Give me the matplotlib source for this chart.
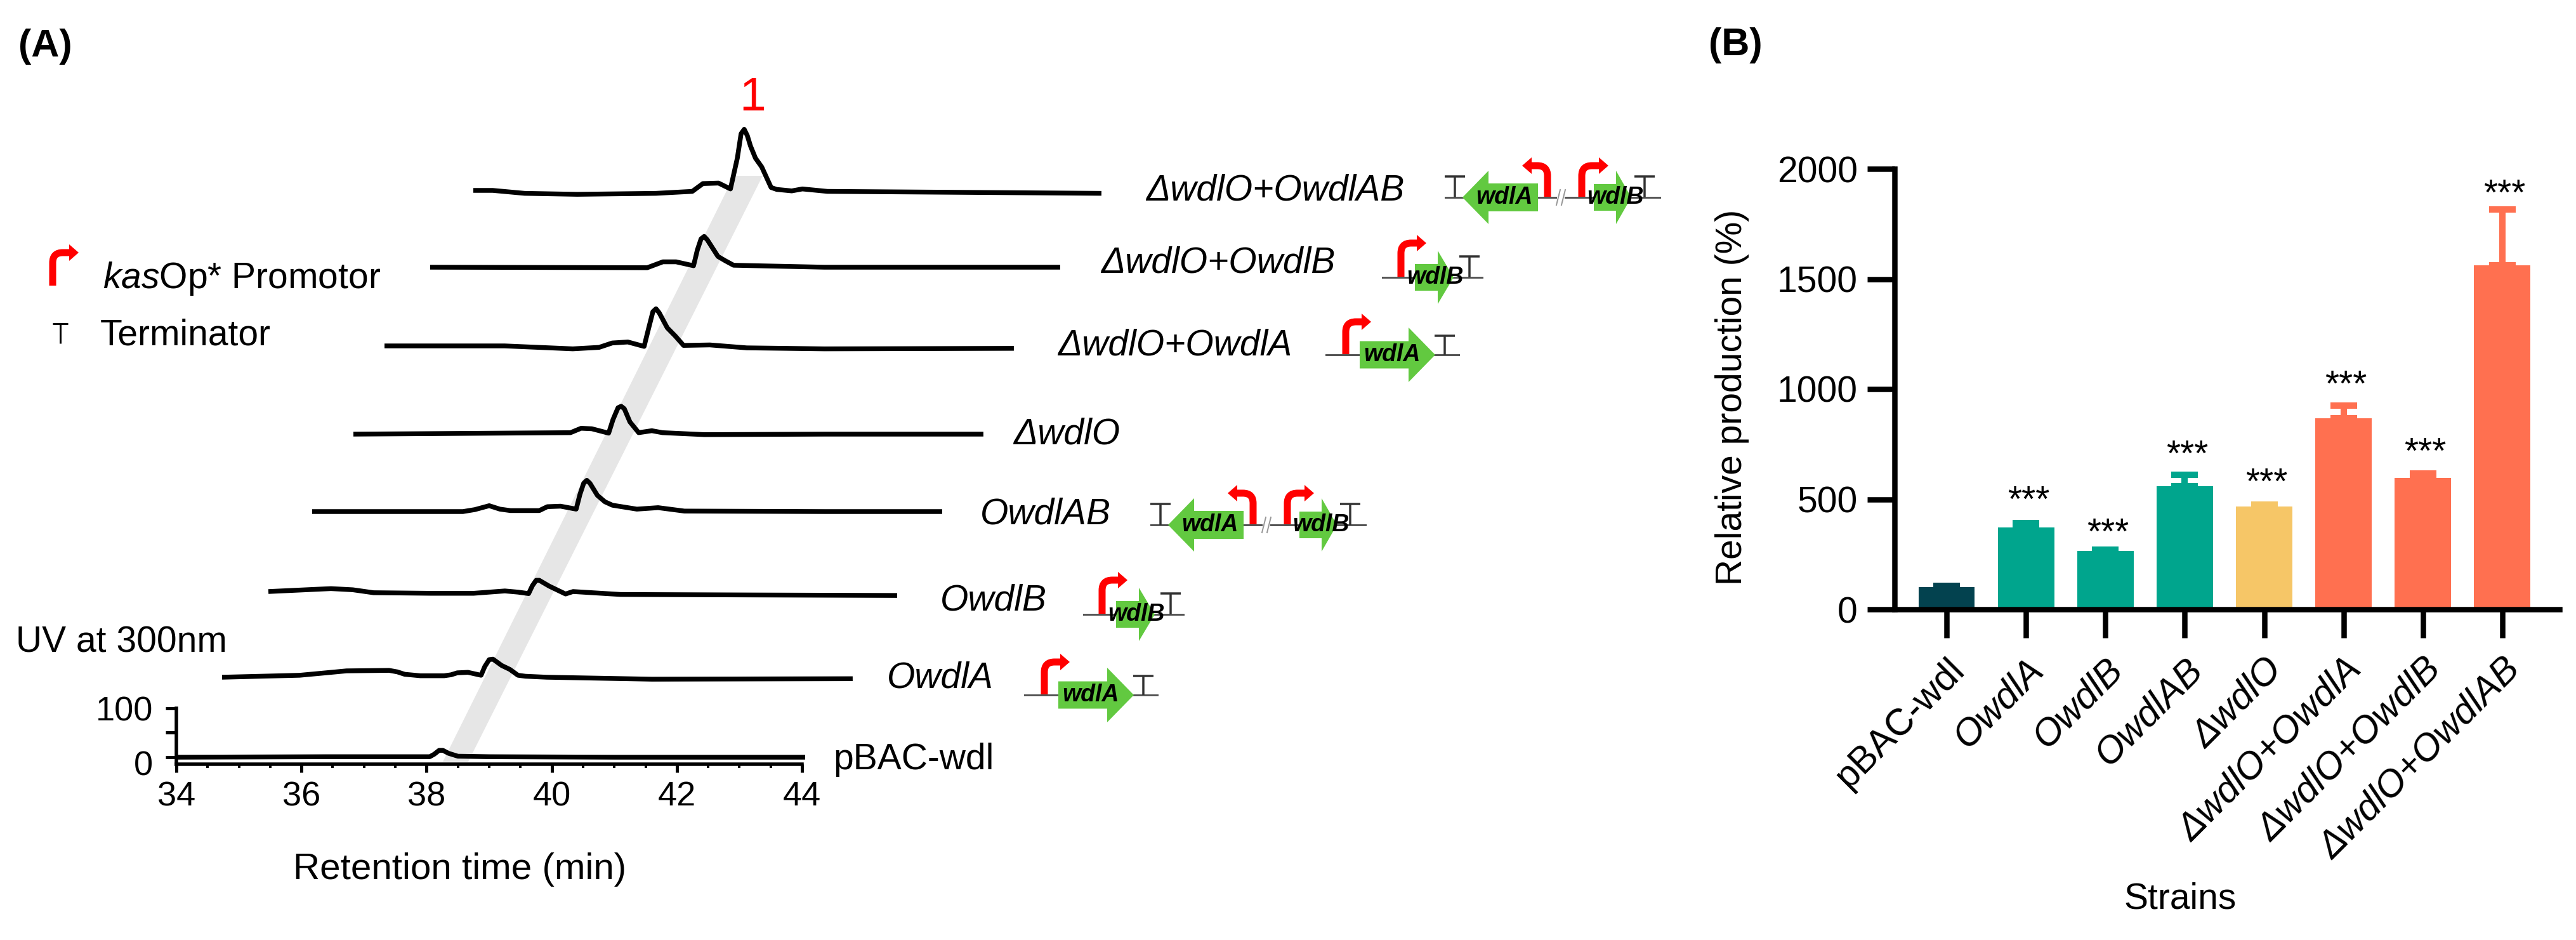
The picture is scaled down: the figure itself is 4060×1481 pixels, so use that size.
import matplotlib
matplotlib.use("Agg")
import matplotlib.pyplot as plt
from matplotlib.patches import Polygon, PathPatch, Rectangle
from matplotlib.path import Path
from matplotlib.transforms import Affine2D, ScaledTranslation
from matplotlib.ticker import MultipleLocator

plt.rcParams['font.family'] = ['Liberation Sans', 'DejaVu Sans']
plt.rcParams['mathtext.fontset'] = 'custom'
plt.rcParams['mathtext.rm'] = 'Liberation Sans'
plt.rcParams['mathtext.it'] = 'Liberation Sans:italic'

# ---------- data: panel A chromatograms (retention time, UV) ----------
t_pbac = [34, 36.4, 37.5, 38.05, 38.12, 38.2, 38.26, 38.35, 38.5, 39, 41, 44.05]
v_pbac = [0, 1, 1, 1, 6, 14, 14, 8, 2, 1, 0, 0]
t_a = [34, 35.24, 35.66, 35.99, 36.67, 36.8, 36.92, 37.17, 37.55, 37.66, 37.76, 37.93, 38.14, 38.2, 38.27, 38.33, 38.47, 38.6, 38.73, 38.85, 39.19, 40.87, 44.08]
v_a = [0, 4, 9, 13, 14, 11, 6, 3, 3, 5, 9, 10, 4, 22, 36, 37, 24, 16, 4, 2, 0, -4, -3]
t_b = [34, 34.5, 35.0, 35.35, 35.68, 36.6, 37.28, 37.78, 37.99, 38.16, 38.22, 38.28, 38.33, 38.49, 38.75, 38.87, 39.63, 41.65, 44.05]
v_b = [0, 3, 6, 3.6, -2.4, -3.6, -3.6, 1.2, -1.2, -4.2, 12, 23, 23, 11, -5, 0, -6, -7, -8]
t_ab = [34, 36.41, 36.6, 36.83, 37.0, 37.17, 37.63, 37.76, 37.97, 38.22, 38.28, 38.34, 38.39, 38.44, 38.56, 38.68, 38.8, 39.19, 39.53, 39.95, 42.2, 44.07]
v_ab = [0, 0, 4, 12, 5, 2, 2, 10, 11, 5, 35, 58, 64, 58, 33, 20, 13, 5, 8, 1, 0, 0]
t_do = [34, 37.47, 37.64, 37.81, 38.08, 38.15, 38.23, 38.28, 38.33, 38.42, 38.56, 38.77, 38.94, 39.61, 41.53, 44.07]
v_do = [0, 3, 12, 11, 2, 30, 54, 57, 52, 25, 3, 7, 3, -1, 0, 0]
t_doa = [34, 35.92, 37.01, 37.43, 37.64, 37.89, 38.15, 38.22, 38.29, 38.34, 38.39, 38.52, 38.65, 38.78, 39.2, 39.79, 41.03, 44.06]
v_doa = [0, 0, -6, -3, 6, 8, -1, 35, 70, 76, 68, 37, 20, 1, 2, -4, -6, -5]
t_dob = [34, 37.47, 37.72, 37.93, 38.21, 38.27, 38.33, 38.38, 38.43, 38.6, 38.72, 38.85, 40.3, 44.07]
v_dob = [0, -1, 11, 11, 3, 35, 58, 63, 56, 22, 13, 4, 0, 0]
t_doab = [34, 34.31, 34.82, 35.66, 36.92, 37.5, 37.67, 37.92, 38.11, 38.22, 38.28, 38.33, 38.38, 38.43, 38.51, 38.61, 38.76, 38.85, 39.09, 39.26, 39.66, 44.04]
v_doab = [0, 0, -6, -8, -6, -2, 14, 15, 3, 66, 116, 125, 112, 91, 66, 48, 6, 2, -1, 3, -2, -6]

trace_names = ['pBAC-wdl', 'OwdlA', 'OwdlB', 'OwdlAB', 'ΔwdlO', 'ΔwdlO+OwdlA', 'ΔwdlO+OwdlB', 'ΔwdlO+OwdlAB']
trace_times = [t_pbac, t_a, t_b, t_ab, t_do, t_doa, t_dob, t_doab]
trace_values = [v_pbac, v_a, v_b, v_ab, v_do, v_doa, v_dob, v_doab]

# ---------- data: panel B ----------
strains = ['pBAC-wdl', 'OwdlA', 'OwdlB', 'OwdlAB', 'ΔwdlO', 'ΔwdlO+OwdlA', 'ΔwdlO+OwdlB', 'ΔwdlO+OwdlAB']
production = [100, 373, 264, 558, 468, 868, 596, 1562]
errors = [8, 20, 6, 52, 8, 58, 22, 254]
star_heights = [None, 505, 358, 712, 587, 1030, 723, 1896]

# ---------- layout (pixels) ----------
W, H = 4060, 1481
DPI = 100
def pt(px):
    return px * 72.0 / DPI

trace_dx = [0, 72, 145, 214, 279, 328, 400, 468]
trace_dy = [0, 126, 261, 387, 509, 648, 772, 893]
label_x = [1313, 1398, 1482, 1545, 1597, 1667, 1735, 1806]
label_y = [1197, 1068, 946, 810, 684, 545, 415, 300]

BAR_COLORS = ['#03424F', '#00A58D', '#00A58D', '#00A58D', '#F6C667', '#FF7050', '#FF7050', '#FF7050']
GREEN = '#62C940'
GREY = '#555555'
TERM = '#333333'
RED = '#FF0000'

fig = plt.figure(figsize=(W / DPI, H / DPI), dpi=DPI, facecolor='white')

def add_px_axes(left, right, top, bottom):
    return fig.add_axes([left / W, 1 - bottom / H, (right - left) / W, (bottom - top) / H])

# overlay in pixel coordinates for annotation graphics
ov = fig.add_axes([0, 0, 1, 1], zorder=0)
ov.set_xlim(0, W)
ov.set_ylim(H, 0)
ov.axis('off')

# highlighted band behind the peaks
ov.add_patch(Polygon([(698, 1200), (738, 1200), (1202, 277), (1157, 277)], closed=True, fc='#E6E6E6', ec='none'))

# ---------- panel A axes ----------
axA = add_px_axes(278, 1264, 1116, 1204)
axA.set_zorder(1)
axA.patch.set_visible(False)
axA.set_xlim(34, 44)
axA.set_ylim(-14.3, 100)
for s in ('top', 'right'):
    axA.spines[s].set_visible(False)
for s in ('left', 'bottom'):
    axA.spines[s].set_linewidth(pt(5.5))
for t, v, dx, dy in zip(trace_times, trace_values, trace_dx, trace_dy):
    tr = axA.transData + Affine2D().translate(dx, dy)
    axA.plot(t, v, color='black', lw=pt(7.5), transform=tr, clip_on=False,
             solid_joinstyle='round', solid_capstyle='butt')
axA.set_xticks(range(34, 45, 2))
axA.xaxis.set_minor_locator(MultipleLocator(0.5))
axA.set_yticks([0, 50, 100])
axA.set_yticklabels(['0', '', '100'])
axA.tick_params(axis='x', which='major', length=pt(13), width=pt(5), labelsize=39, pad=pt(13))
axA.tick_params(axis='x', which='minor', length=pt(6), width=pt(4))
axA.tick_params(axis='y', which='major', length=pt(17), width=pt(5), labelsize=39, pad=pt(20))
zero = axA.get_yticklabels()[0]
zero.set_transform(zero.get_transform() + ScaledTranslation(0, -pt(9) / 72, fig.dpi_scale_trans))
axA.set_xlabel('Retention time (min)', fontsize=42)
axA.xaxis.set_label_coords(725, 1370, transform=ov.transData)
axA.xaxis.label.set_va('center')

# ---------- panel A texts ----------
for name, x, y in zip(trace_names, label_x, label_y):
    ov.text(x, y, name, fontsize=41, va='center', ha='left', style='normal' if name == 'pBAC-wdl' else 'italic')
ov.text(25, 1013, 'UV at 300nm', fontsize=41, va='center', ha='left')
ov.text(29, 73, '(A)', fontsize=44, fontweight='bold', va='center', ha='left')
ov.text(2693, 71, '(B)', fontsize=44, fontweight='bold', va='center', ha='left')
ov.text(1186, 154, '1', fontsize=54, color=RED, va='center', ha='center')
ov.text(162, 454, r'$\mathit{kas}$Op* Promotor', fontsize=41, va='baseline', ha='left')
ov.text(158, 543, 'Terminator', fontsize=41, va='baseline', ha='left')

def red_arrow(x, y0, top, tip, lw=11):
    """Bent promoter arrow: stem at x from y0 to top, pointing to tip."""
    d = 1 if tip > x else -1
    r = 16
    head = 15
    verts = [(x, y0), (x, top + r), (x, top), (x + d * r, top), (tip - d * head, top)]
    codes = [Path.MOVETO, Path.LINETO, Path.CURVE3, Path.CURVE3, Path.LINETO]
    ov.add_patch(PathPatch(Path(verts, codes), fc='none', ec=RED, lw=pt(lw), capstyle='butt'))
    ov.add_patch(Polygon([(tip, top), (tip - d * head, top - 13), (tip - d * head, top + 13)], closed=True, fc=RED, ec='none'))

def terminator(x, y0, h, half=16, color=TERM, lw=3.5):
    ov.plot([x, x], [y0, y0 - h], color=color, lw=pt(lw), solid_capstyle='butt')
    ov.plot([x - half, x + half], [y0 - h, y0 - h], color=color, lw=pt(lw), solid_capstyle='butt')

def gene(base, tip, body_end, y, half, head_half, label, cx):
    """Green block arrow from body_end to tip; base is where the head starts."""
    pts = [(body_end, y - half), (base, y - half), (base, y - head_half), (tip, y),
           (base, y + head_half), (base, y + half), (body_end, y + half)]
    ov.add_patch(Polygon(pts, closed=True, fc=GREEN, ec='none', zorder=3))
    ov.text(cx, y, label, fontsize=27, fontweight='bold', style='italic', ha='center', va='center', zorder=4)

def construct_a(x, y):
    ov.plot([x, x + 209], [y, y], color=GREY, lw=pt(3))
    red_arrow(x + 31, y, y - 52, x + 71)
    gene(x + 130, x + 172, x + 53, y, 21.5, 43, 'wdlA', x + 104)
    terminator(x + 187, y, 30)

def construct_b(x, y):
    ov.plot([x, x + 157], [y, y], color=GREY, lw=pt(3))
    red_arrow(x + 29, y, y - 54, x + 69)
    gene(x + 87, x + 112, x + 51, y, 21, 42, 'wdlB', x + 83)
    terminator(x + 137, y, 33)

def construct_ab(x, y):
    ov.plot([x, x + 338], [y, y], color=GREY, lw=pt(3))
    terminator(x + 15, y, 33)
    red_arrow(x + 161, y, y - 50, x + 121)
    gene(x + 68, x + 27, x + 146, y, 22, 42, 'wdlA', x + 93)
    ov.add_patch(Rectangle((x + 176, y - 4), 12, 8, fc='white', ec='none', zorder=2))
    for off in (0, 8):
        ov.plot([x + 175 + off, x + 181 + off], [y + 12, y - 12], color='#999999', lw=pt(2), zorder=3)
    red_arrow(x + 215, y, y - 50, x + 257)
    gene(x + 269, x + 293, x + 234, y, 21, 42, 'wdlB', x + 268)
    terminator(x + 314, y, 33)

construct_a(2090, 559)
construct_a(1615, 1095)
construct_b(2179, 437)
construct_b(1708, 968)
construct_ab(2278, 311)
construct_ab(1814, 827)

# legend glyphs
red_arrow(83, 450, 398, 124)
terminator(95, 541, 31, half=12, color='black', lw=3)

# ---------- panel B ----------
axB = add_px_axes(2986, 4034, 266, 960)
axB.set_zorder(1)
axB.patch.set_visible(False)
positions = list(range(len(strains)))
axB.bar(positions, production, width=0.71, color=BAR_COLORS, zorder=2)
for p, val, err, col in zip(positions, production, errors, BAR_COLORS):
    axB.errorbar(p, val, yerr=[[0], [err]], color=col, elinewidth=pt(10), capsize=pt(21), capthick=pt(10), zorder=1)
axB.set_xlim(-0.655, 7.72)
axB.set_ylim(0, 2000)
axB.set_yticks([0, 500, 1000, 1500, 2000])
axB.set_xticks(positions)
axB.set_xticklabels(strains, rotation=45, ha='right', va='top', rotation_mode='anchor', fontsize=42.5)
label_shift = ScaledTranslation(-pt(10) / 72, 0, fig.dpi_scale_trans)
for lab, name in zip(axB.get_xticklabels(), strains):
    lab.set_style('normal' if name == 'pBAC-wdl' else 'italic')
    lab.set_transform(lab.get_transform() + label_shift)
for s in ('top', 'right'):
    axB.spines[s].set_visible(False)
for s in ('left', 'bottom'):
    axB.spines[s].set_linewidth(pt(8.5))
axB.tick_params(axis='y', length=pt(43), width=pt(8.5), labelsize=41, pad=pt(15))
axB.tick_params(axis='x', length=pt(45), width=pt(8.5), pad=pt(22))
axB.set_ylabel('Relative production (%)', fontsize=41)
axB.yaxis.set_label_coords(2730, 626, transform=ov.transData)
axB.yaxis.label.set_va('center')
axB.set_xlabel('Strains', fontsize=41)
axB.xaxis.set_label_coords(3436, 1416, transform=ov.transData)
axB.xaxis.label.set_va('center')
for p, h in zip(positions, star_heights):
    if h is not None:
        axB.text(p + 0.03, h, '***', fontsize=41, ha='center', va='center_baseline', clip_on=False)

fig.savefig('out.png', dpi=DPI, facecolor='white')
